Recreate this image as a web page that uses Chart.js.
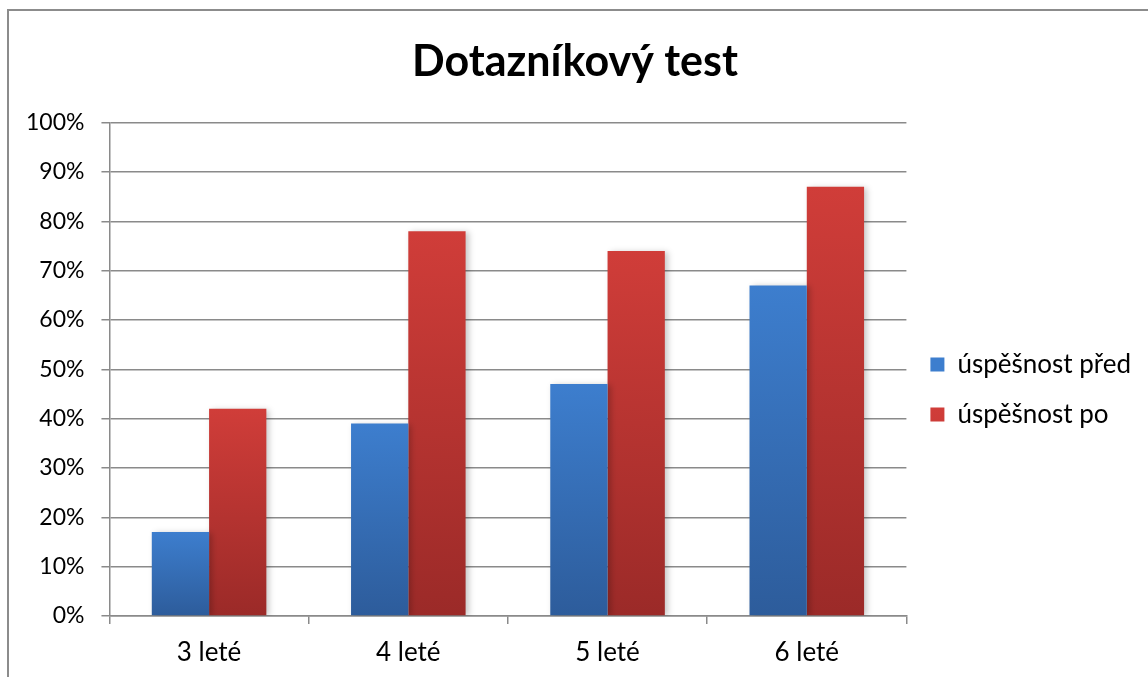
<!DOCTYPE html>
<html>
<head>
<meta charset="utf-8">
<script src="https://cdn.jsdelivr.net/npm/chart.js@4.4.0/dist/chart.umd.min.js"></script>
<style>
  html, body { margin: 0; padding: 0; background: #fff; overflow: hidden; }
  #wrap { position: relative; width: 1148px; height: 677px; }
  #frame { position: absolute; left: 7px; top: 9px; right: -10px; bottom: -10px;
           border-left: 2px solid #8c8c8c; border-top: 2px solid #8c8c8c; pointer-events: none; }
  canvas { position: absolute; left: 0; top: 0; }
</style>
</head>
<body>
<div id="wrap">
  <canvas id="canvas" width="1148" height="677"></canvas>
  <div id="frame"></div>
</div>
<script>
const categories = ['3 leté', '4 leté', '5 leté', '6 leté'];
const seriesNames = ['úspěšnost před', 'úspěšnost po'];
const valuesBefore = [17, 39, 47, 67];
const valuesAfter = [42, 78, 74, 87];
const yTicks = [0, 10, 20, 30, 40, 50, 60, 70, 80, 90, 100];

const FONT = 'Lato';

// gradient per bar, light on top, darker at the bottom
function barGradient(top, bottom){
    return function(context){
        const chart = context.chart;
        if (!chart.chartArea || context.type !== 'data') return top;
        const y = chart.scales.y;
        const g = chart.ctx.createLinearGradient(0, y.getPixelForValue(context.raw), 0, y.getPixelForValue(0));
        g.addColorStop(0, top);
        g.addColorStop(1, bottom);
        return g;
    };
}

// soft shadow on the right side of the bars
const barShadow = {
    id: 'barShadow',
    beforeDatasetsDraw(chart){
        const c = chart.ctx;
        c.save();
        c.shadowColor = 'rgba(0,0,0,0.22)';
        c.shadowBlur = 6;
        c.shadowOffsetX = 3;
        c.shadowOffsetY = 1;
    },
    afterDatasetsDraw(chart){
        chart.ctx.restore();
    }
};

const ctx = document.getElementById('canvas').getContext('2d');
const myChart = new Chart(ctx, {
    type: 'bar',
    data: {
        labels: categories,
        datasets: [{
            label: seriesNames[0],
            data: valuesBefore,
            backgroundColor: barGradient('#3d7ece', '#2d5c9b'),
            borderWidth: 0
        }, {
            label: seriesNames[1],
            data: valuesAfter,
            backgroundColor: barGradient('#d03d39', '#9b2a28'),
            borderWidth: 0
        }]
    },
    options: {
        responsive: false,
        animation: false,
        devicePixelRatio: 1,
        categoryPercentage: 0.575,
        barPercentage: 1,
        layout: {
            padding: { top: 36, bottom: -5, left: 9, right: 7 }
        },
        plugins: {
            title: {
                display: true,
                text: 'Dotazníkový test',
                color: '#000',
                font: { family: FONT, size: 43, weight: 'bold' },
                padding: { top: 0, bottom: 35 }
            },
            legend: {
                position: 'right',
                title: { display: true, text: ' ', font: { size: 14 }, padding: 22 },
                labels: {
                    color: '#000',
                    font: { family: FONT, size: 26 },
                    boxWidth: 14,
                    boxHeight: 14,
                    padding: 24
                }
            },
            tooltip: { enabled: false }
        },
        scales: {
            y: {
                min: 0,
                max: 100,
                afterBuildTicks(axis){
                    axis.ticks = yTicks.map(v => ({ value: v }));
                },
                ticks: {
                    color: '#000',
                    font: { family: FONT, size: 23 },
                    padding: 17,
                    callback: v => v + '%'
                },
                grid: { color: '#8a8a8a', tickLength: 8, lineWidth: 1.5 },
                border: { color: '#8a8a8a', width: 1.5 }
            },
            x: {
                ticks: {
                    color: '#000',
                    font: { family: FONT, size: 26, lineHeight: 1 },
                    padding: 16
                },
                grid: { drawOnChartArea: false, color: '#8a8a8a', tickLength: 8, lineWidth: 1.5, offset: true },
                border: { color: '#8a8a8a', width: 1.5 }
            }
        }
    },
    plugins: [barShadow]
});
</script>
</body>
</html>
